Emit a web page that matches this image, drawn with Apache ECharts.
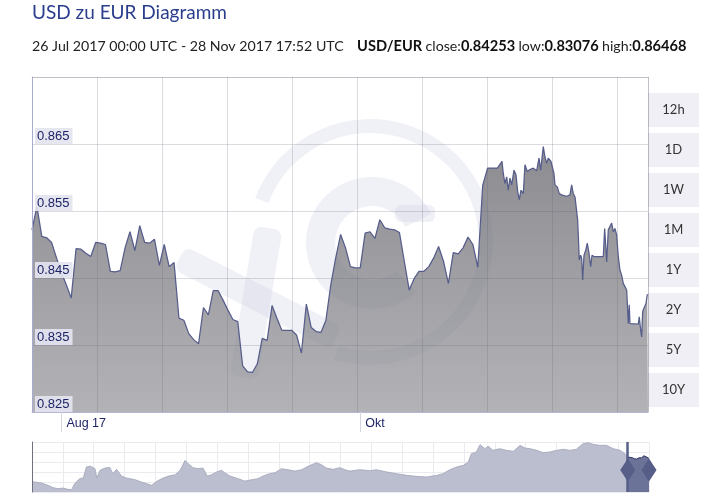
<!DOCTYPE html>
<html><head><meta charset="utf-8">
<script src="https://cdn.jsdelivr.net/npm/echarts@6/dist/echarts.min.js"></script>
<style>html,body{margin:0;padding:0;background:#fff}#c{width:726px;height:503px}</style>
</head><body><div id="c"></div>
<script>
// ---------- data ----------
const titleText = 'USD zu EUR Diagramm';
const rangeText = '26 Jul 2017 00:00 UTC - 28 Nov 2017 17:52 UTC';
const pairText = 'USD/EUR';
const closeText = '0.84253', lowText = '0.83076', highText = '0.86468';
const startUTC = Date.UTC(2017, 6, 26, 0, 0);
const endUTC = Date.UTC(2017, 10, 28, 17, 52);
// time in days since 26 Jul 2017 00:00 UTC
const dayOffsets = [
  0,1,2,3,4,5,6,7,8,9,10,11,12,13,14,15,16,17,18,19,20,21,22,23,24,25,26,27,28,29,
  30,31,32,33,34,35,36,37,38,39,40,41,42,43,44,45,46,47,48,49,50,51,52,53,54,55,56,57,58,59,
  60,61,62,63,64,65,66,67,68,69,70,71,72,73,74,75,76,77,78,79,80,81,82,83,84,85,86,87,88,89,
  90,91,92,93,94,95,
  95.94,96.20,96.55,96.90,97.22,97.57,97.92,98.39,98.80,99.14,99.47,99.82,100.29,100.63,101.10,
  101.65,102.33,103.02,103.49,103.84,104.37,104.71,105.06,105.39,105.94,106.29,106.55,106.76,
  107.23,107.63,108.12,109.14,109.82,110.16,110.49,110.84,111.19,111.39,111.72,112.00,112.21,
  112.41,112.68,113.02,113.35,113.70,114.04,114.31,114.72,116.62,116.90,117.17,117.31,117.64,
  117.98,118.33,118.66,119.00,119.35,119.68,120.02,120.37,120.70,121.04,121.39,121.72,121.92,
  122.06,123.76,123.96,124.25,124.45,124.66,124.92,125.33,125.59,125.745
];
const rates = [
  0.8522,0.8557,0.8512,0.8510,0.8503,0.8480,0.8458,0.8440,0.8420,0.8494,0.8493,0.8487,0.8482,0.8503,0.8502,
  0.8500,0.8460,0.8459,0.8461,0.8495,0.8519,0.8491,0.8528,0.8503,0.8502,0.8508,0.8469,0.8500,0.8467,0.8473,
  0.8390,0.8387,0.8367,0.8358,0.8352,0.8406,0.8395,0.8431,0.8431,0.8417,0.8402,0.8388,0.8385,0.8319,0.8310,
  0.8309,0.8322,0.8360,0.8357,0.8409,0.8390,0.8372,0.8372,0.8372,0.8365,0.8338,0.8411,0.8376,0.8370,0.8369,
  0.8387,0.8440,0.8480,0.8515,0.8495,0.8467,0.8465,0.8465,0.8517,0.8519,0.8509,0.8537,0.8525,0.8523,0.8522,
  0.8518,0.8475,0.8432,0.8449,0.8460,0.8460,0.8467,0.8480,0.8497,0.8475,0.8442,0.8488,0.8486,0.8495,0.8511,
  0.8500,0.8466,0.8588,0.8614,0.8614,0.8614,
  0.8624,0.8606,0.8591,0.8601,0.8581,0.8599,0.8589,0.8611,0.8604,0.8579,0.8567,0.8581,0.8576,0.8619,0.8609,
  0.8612,0.8614,0.8610,0.8629,0.8611,0.8646,0.8631,0.8621,0.8629,0.8624,0.8624,0.8606,0.8589,
  0.8586,0.8576,0.8574,0.8572,0.8574,0.8589,0.8576,0.8571,0.8569,0.8537,0.8477,0.8484,0.8479,
  0.8447,0.8484,0.8491,0.8502,0.8487,0.8467,0.8484,0.8482,0.8482,0.8524,0.8522,0.8474,0.8522,
  0.8524,0.8532,0.8519,0.8524,0.8514,0.8482,0.8462,0.8454,0.8442,0.8444,0.8432,0.8382,0.8410,
  0.8382,0.8381,0.8392,0.8372,0.8362,0.8400,0.8405,0.8412,0.8425,0.84253
];
const xTickDates = [Date.UTC(2017, 7, 1), Date.UTC(2017, 9, 1)];
const xTickLabels = ['Aug 17', 'Okt'];
const yMin = 0.825, yMax = 0.875, yStep = 0.01;
// navigator: decimal year, rate
const navYears = [
  2007.91,2007.95,2008.06,2008.17,2008.25,2008.33,2008.41,2008.49,2008.55,2008.60,2008.68,2008.74,2008.79,
  2008.85,2008.93,2008.96,2009.01,2009.09,2009.17,2009.22,2009.28,2009.36,2009.44,2009.58,2009.68,2009.85,
  2009.93,2010.01,2010.12,2010.23,2010.31,2010.39,2010.44,2010.52,2010.60,2010.68,2010.75,2010.82,2010.90,
  2010.98,2011.03,2011.12,2011.25,2011.36,2011.47,2011.57,2011.68,2011.76,2011.85,2011.95,2012.06,2012.17,
  2012.28,2012.39,2012.52,2012.60,2012.68,2012.79,2012.90,2012.98,2013.06,2013.22,2013.39,2013.49,2013.66,
  2013.82,2013.98,2014.14,2014.30,2014.47,2014.57,2014.68,2014.79,2014.90,2014.98,2015.03,2015.11,2015.17,
  2015.25,2015.30,2015.38,2015.49,2015.60,2015.71,2015.82,2015.90,2015.98,2016.09,2016.19,2016.30,2016.41,
  2016.52,2016.63,2016.73,2016.84,2016.92,2017.00,2017.11,2017.22,2017.33,2017.44,2017.52,2017.56
];
const navRates = [
  0.663,0.658,0.650,0.632,0.614,0.606,0.611,0.601,0.598,0.645,0.684,0.689,0.775,
  0.782,0.762,0.689,0.749,0.767,0.772,0.723,0.757,0.704,0.689,0.676,0.658,0.632,
  0.663,0.684,0.704,0.715,0.749,0.827,0.801,0.770,0.762,0.767,0.704,0.715,0.736,
  0.749,0.731,0.704,0.684,0.665,0.676,0.684,0.710,0.723,0.731,0.762,0.754,0.743,
  0.754,0.782,0.809,0.793,0.767,0.757,0.770,0.754,0.743,0.754,0.746,0.754,0.736,
  0.723,0.710,0.702,0.697,0.710,0.723,0.754,0.775,0.788,0.814,0.879,0.892,0.949,
  0.918,0.938,0.905,0.918,0.905,0.897,0.944,0.923,0.918,0.905,0.887,0.892,0.905,
  0.913,0.905,0.913,0.957,0.965,0.952,0.944,0.944,0.918,0.905,0.879,0.852
];
const navYMin = 0.58, navYMax = 0.97;
const rangeButtons = ['12h', '1D', '1W', '1M', '1Y', '2Y', '5Y', '10Y'];

// ---------- build ----------
const DAY = 86400000;
const mainData = dayOffsets.map((d, i) => [startUTC + d * DAY, rates[i]]);
const toYear = ts => 2017 + (ts - Date.UTC(2017, 0, 1)) / (365 * DAY);
const windowData = mainData.map(p => [toYear(p[0]), p[1]]);
const navData = navYears.map((y, i) => [y, navRates[i]]);
const navEnd = toYear(endUTC), navStart = navEnd - 10, winStart = toYear(startUTC);
const navMid = navYMin + (navYMax - navYMin) * 0.44;

const gridCol = 'rgba(95,95,115,0.22)';
const wm = 'rgba(208,208,230,0.32)';
const axisFont = 'Liberation Sans, Arial, sans-serif';

const buttons = rangeButtons.map((t, i) => ({
  type: 'group', x: 648, y: 93 + i * 40,
  children: [
    { type: 'rect', shape: { x: 0, y: 0, width: 51, height: 34 }, style: { fill: '#efeff5' } },
    { type: 'text', x: 25.5, y: 17, style: { text: t, fontSize: 13, fontFamily: 'Lato', fill: '#333', align: 'center', verticalAlign: 'middle' } }
  ]
}));

const chart = echarts.init(document.getElementById('c'), null, { renderer: 'canvas' });
chart.setOption({
  animation: false,
  backgroundColor: '#fff',
  grid: [
    { left: 32, right: 78, top: 77, bottom: 91 },
    { left: 32, right: 77, top: 442, bottom: 11 }
  ],
  xAxis: [
    { type: 'value', gridIndex: 0, min: startUTC, max: endUTC,
      axisLine: { show: true, lineStyle: { color: '#b4b7d8', width: 1 } },
      axisTick: { show: true, customValues: xTickDates, length: 20, lineStyle: { color: '#d6d6de' } },
      axisLabel: { show: true, customValues: xTickDates, margin: 5, align: 'left', padding: [0, 0, 0, 5],
        color: '#1d2466', fontSize: 12.5, fontFamily: axisFont,
        formatter: v => { const i = xTickDates.indexOf(v); return i >= 0 ? xTickLabels[i] : ''; } },
      splitLine: { show: false }, z: 6 },
    { type: 'value', gridIndex: 0, position: 'top', min: 0, max: 616 / 65, interval: 1,
      axisLine: { show: true, lineStyle: { color: gridCol } }, axisTick: { show: false }, axisLabel: { show: false },
      splitLine: { show: true, lineStyle: { color: gridCol, width: 1 } }, z: 5 },
    { type: 'value', gridIndex: 1, min: navStart, max: navEnd,
      axisLine: { show: false }, axisTick: { show: false }, axisLabel: { show: false }, splitLine: { show: false } },
    { type: 'value', gridIndex: 1, position: 'top', min: 0, max: 20, interval: 1,
      axisLine: { show: false }, axisTick: { show: false }, axisLabel: { show: false },
      splitLine: { show: true, lineStyle: { color: '#ebebef' } } }
  ],
  yAxis: [
    { type: 'value', gridIndex: 0, min: yMin, max: yMax, interval: yStep,
      axisLine: { show: true, lineStyle: { color: '#a8abd0' } }, axisTick: { show: false },
      splitLine: { show: false },
      axisLabel: { inside: true, showMaxLabel: false, showMinLabel: true, margin: 3,
        formatter: v => v.toFixed(3), color: '#1d2466', fontSize: 13, fontFamily: axisFont,
        backgroundColor: 'rgba(228,228,240,0.92)', padding: [2, 3, 1, 2], verticalAlign: 'bottom' },
      z: 7 },
    { type: 'value', gridIndex: 0, position: 'right', min: 0, max: 5, interval: 1,
      axisLine: { show: true, lineStyle: { color: gridCol } }, axisTick: { show: false }, axisLabel: { show: false },
      splitLine: { show: true, lineStyle: { color: gridCol, width: 1 } }, z: 5 },
    { type: 'value', gridIndex: 1, min: navYMin, max: navYMax,
      axisLine: { show: true, lineStyle: { color: '#70707c' } }, axisTick: { show: false }, axisLabel: { show: false },
      splitLine: { show: false }, z: 4 },
    { type: 'value', gridIndex: 1, position: 'right', min: 0, max: 5, interval: 1,
      axisLine: { show: false }, axisTick: { show: false }, axisLabel: { show: false },
      splitLine: { show: true, lineStyle: { color: '#ebebef' } } }
  ],
  series: [
    { type: 'line', xAxisIndex: 0, yAxisIndex: 0, data: mainData, symbol: 'none', z: 2,
      lineStyle: { color: '#565d8a', width: 1.25 },
      areaStyle: { origin: 'start', opacity: 1, color: new echarts.graphic.LinearGradient(0, 0, 0, 1, [
        { offset: 0, color: 'rgba(90,90,98,0.7)' }, { offset: 1, color: 'rgba(138,138,144,0.65)' }]) } },
    { type: 'line', xAxisIndex: 2, yAxisIndex: 2, data: navData, symbol: 'none', z: 2,
      lineStyle: { color: '#a1a5b7', width: 0.8 },
      areaStyle: { origin: 'start', color: '#babecf', opacity: 1 } },
    { type: 'line', xAxisIndex: 2, yAxisIndex: 2, data: windowData, symbol: 'none', z: 3,
      lineStyle: { color: '#2f3566', width: 1 },
      areaStyle: { origin: 'start', color: '#6c7398', opacity: 1 },
      markLine: { silent: true, symbol: 'none', label: { show: false },
        lineStyle: { color: '#566089', width: 2.5, type: 'solid' },
        data: [{ xAxis: winStart }, { xAxis: navEnd }] },
      markPoint: { symbol: 'diamond', symbolSize: [15, 23], label: { show: false },
        itemStyle: { color: '#565d87' },
        data: [{ coord: [winStart, navMid] }, { coord: [navEnd, navMid] }] } }
  ],
  graphic: [
    { type: 'text', left: 32, top: 3, style: { text: titleText, fontSize: 19, fontFamily: 'Lato', fill: '#2b3e8e' } },
    { type: 'text', x: 32, y: 46, style: {
        text: '{n|' + rangeText + '}    {b|' + pairText + '} {n|close:}{b|' + closeText + '} {n|low:}{b|' + lowText + '} {n|high:}{b|' + highText + '}',
        verticalAlign: 'middle',
        rich: { n: { fontSize: 14.2, fontFamily: 'Lato', fill: '#222' }, b: { fontSize: 14.6, fontFamily: 'Lato', fontWeight: 'bold', fill: '#111' } } } },
    { type: 'group', z: 4, silent: true, children: [
      { type: 'sector', shape: { cx: 370, cy: 242, r: 123, r0: 109, startAngle: 201 * Math.PI / 180, endAngle: 467 * Math.PI / 180, clockwise: true }, style: { fill: wm } },
      { type: 'sector', shape: { cx: 372, cy: 243, r: 66, r0: 37, startAngle: 48 * Math.PI / 180, endAngle: 334 * Math.PI / 180, clockwise: true }, style: { fill: wm } },
      { type: 'rect', shape: { x: 395, y: 205, width: 40, height: 17, r: 6 }, style: { fill: wm } },
      { type: 'rect', x: 258, y: 298, rotation: -27 * Math.PI / 180, shape: { x: -88, y: -13, width: 176, height: 26, r: 8 }, style: { fill: wm } },
      { type: 'rect', x: 256, y: 303, rotation: -9.5 * Math.PI / 180, shape: { x: -14, y: -76, width: 28, height: 152, r: 8 }, style: { fill: wm } }
    ] }
  ].concat(buttons)
});
</script></body></html>
